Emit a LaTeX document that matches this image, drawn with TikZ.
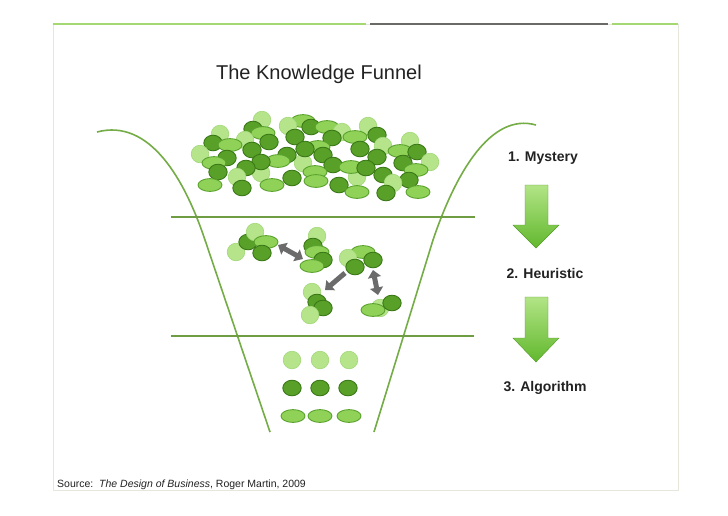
\documentclass[tikz,border=0pt]{standalone}
\usepackage{fontspec}
\setmainfont{Liberation Sans}
\usetikzlibrary{arrows.meta}

\definecolor{framegray}{HTML}{E6E6DC}
\definecolor{topgreen}{HTML}{A3D873}
\definecolor{topgray}{HTML}{6A6A66}
\definecolor{funnelgreen}{HTML}{74AC46}
\definecolor{levelgreen}{HTML}{6F9D43}
\definecolor{ltfill}{HTML}{B5E48B}
\definecolor{ltedge}{HTML}{A3D878}
\definecolor{mdfill}{HTML}{90D258}
\definecolor{mdedge}{HTML}{5AA22D}
\definecolor{dkfill}{HTML}{58A028}
\definecolor{dkedge}{HTML}{3A7817}
\definecolor{arrowgray}{HTML}{6B6B6B}
\definecolor{arrowtop}{HTML}{B2E486}
\definecolor{arrowbot}{HTML}{62B82E}
\definecolor{textdark}{HTML}{222222}

\tikzset{
  funnel/.style={draw=funnelgreen, line width=1.6pt},
  level/.style={draw=levelgreen, line width=2pt},
  ltblob/.style={fill=ltfill, draw=ltedge, line width=0.6pt},
  mdblob/.style={fill=mdfill, draw=mdedge, line width=0.9pt},
  dkblob/.style={fill=dkfill, draw=dkedge, line width=0.9pt},
  grayarrow/.style={draw=arrowgray, line width=5pt, >={Triangle[width=13pt,length=7.5pt]}},
  downarrow/.style={top color=arrowtop, bottom color=arrowbot, draw=arrowbot!85!black, line width=0.4pt},
  steplabel/.style={font=\fontsize{14}{17}\selectfont\bfseries, text=textdark}
}

\def\ltdot(#1,#2){\draw[ltblob] (#1,#2) circle[radius=8.8pt];}
\def\mddot(#1,#2){\draw[mdblob] (#1,#2) ellipse[x radius=12pt, y radius=6.4pt];}
\def\dkdot(#1,#2){\draw[dkblob] (#1,#2) ellipse[x radius=9.2pt, y radius=7.8pt];}

\begin{document}
\begin{tikzpicture}[x=1pt,y=-1pt]
				\useasboundingbox (0,0) rectangle (728,515);
				\fill[white] (0,0) rectangle (728,515);
				
				\draw[framegray, line width=0.6pt] (53,24) rectangle (678,490);
				\draw[topgreen, line width=2pt] (53,24) -- (366,24);
				\draw[topgray, line width=2pt] (370,24) -- (608,24);
				\draw[topgreen, line width=2pt] (612,24) -- (678,24);
				
				\node[font=\fontsize{20}{24}\selectfont, text=textdark] (title) at (319,74) {The Knowledge Funnel};
				
				% funnel
				\draw[funnel] (97,132) .. controls (150,118) and (185,180) .. (205,240) -- (270,432);
				\draw[funnel] (536,125) .. controls (490,112) and (455,175) .. (433,240) -- (374,432);
				\draw[level] (171,217) -- (475,217);
				\draw[level] (171,336) -- (474,336);
				
				% mystery
				\ltdot(303,163) \ltdot(261,173) \ltdot(357,177)
				\mddot(303,121) \ltdot(262,120) \ltdot(288,126) \ltdot(368,126) \dkdot(311,127) \mddot(327,127)
				\dkdot(253,129) \ltdot(342,132) \mddot(263,133) \ltdot(220,134) \dkdot(377,135) \dkdot(295,137)
				\mddot(355,137) \dkdot(332,138) \ltdot(245,140) \ltdot(410,141) \dkdot(269,142) \dkdot(213,143)
				\mddot(230,145) \ltdot(383,146) \mddot(318,147) \dkdot(305,149) \dkdot(360,149) \dkdot(252,150)
				\mddot(400,151) \dkdot(417,152) \ltdot(200,154) \dkdot(287,155) \dkdot(323,155) \dkdot(377,157)
				\dkdot(227,158) \mddot(278,161) \ltdot(430,162) \dkdot(261,162) \dkdot(403,163) \mddot(214,163)
				\dkdot(333,165) \mddot(351,167) \dkdot(246,168) \dkdot(366,168) \mddot(416,170) \dkdot(218,172)
				\mddot(315,172) \dkdot(383,175) \ltdot(237,177) \dkdot(292,178) \dkdot(409,180) \mddot(316,181)
				\ltdot(393,183) \dkdot(339,185) \mddot(210,185) \mddot(272,185) \dkdot(242,188) \mddot(357,192)
				\mddot(418,192) \dkdot(386,193)
				
				% heuristic
				\ltdot(236,252) \dkdot(248,242) \ltdot(255,232) \mddot(266,242) \dkdot(262,253)
				\ltdot(317,236) \dkdot(313,246) \mddot(317,252) \dkdot(323,260) \mddot(312,266)
				\mddot(363,252) \ltdot(348,258) \dkdot(355,267) \dkdot(373,260)
				\ltdot(312,292) \dkdot(317,302) \dkdot(323,308) \ltdot(310,315)
				\ltdot(380,308) \mddot(373,310) \dkdot(392,303)
				\draw[grayarrow,<->] (278,245) -- (303,259);
				\draw[grayarrow,->] (345,273) -- (325,290);
				\draw[grayarrow,<->] (373,270) -- (378,295);
				
				% algorithm
				\ltdot(292,360) \ltdot(320,360) \ltdot(349,360)
				\dkdot(292,388) \dkdot(320,388) \dkdot(348,388)
				\mddot(293,416) \mddot(320,416) \mddot(349,416)
				
				% stages
				\node[steplabel] (mystery) at (543,158) {1. Mystery};
				\node[steplabel] (heuristic) at (545,273) {2. Heuristic};
				\node[steplabel] (algorithm) at (545,388) {3. Algorithm};
				\path[downarrow] (525,185) -- (548,185) -- (548,225) -- (559,225) -- (536,248) -- (513,225) -- (525,225) -- cycle;
				\path[downarrow] (525,297) -- (548,297) -- (548,338) -- (559,338) -- (536,362) -- (513,338) -- (525,338) -- cycle;
				
				\node[anchor=base west, font=\fontsize{10.5}{12}\selectfont, text=textdark, inner sep=0pt] (source) at (57,487) {Source:\ \ \textit{The Design of Business}, Roger Martin, 2009};
			\end{tikzpicture}
\end{document}
